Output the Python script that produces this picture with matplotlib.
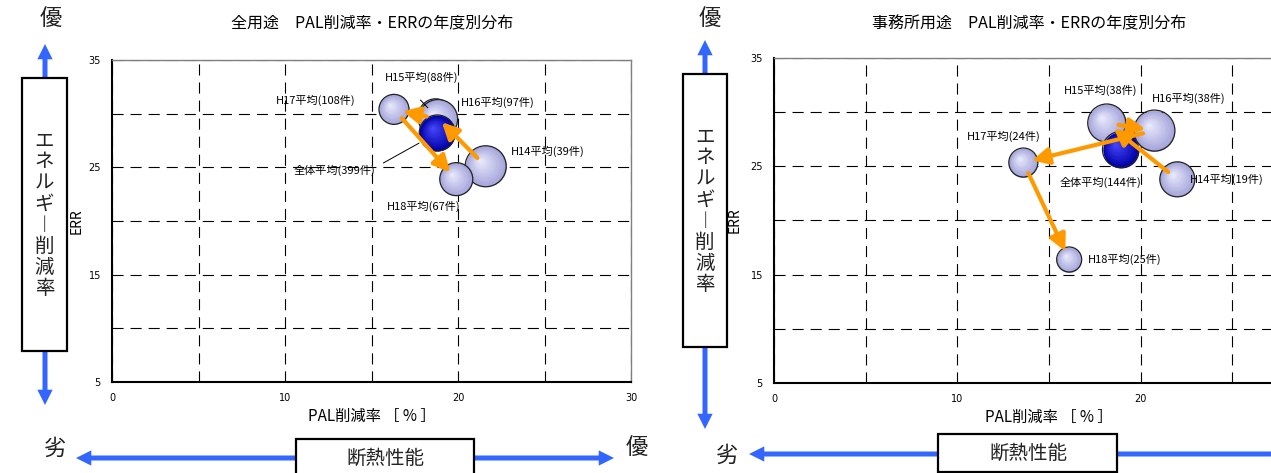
import numpy as np
import matplotlib.pyplot as plt
from matplotlib.patches import Rectangle, FancyArrowPatch
from matplotlib.transforms import ScaledTranslation
from matplotlib.colors import to_rgb

plt.rcParams['font.family'] = ['Noto Sans CJK JP', 'DejaVu Sans']
plt.rcParams['lines.scale_dashes'] = False

# --- data ---
years_all = ['H14平均(39件)', 'H15平均(88件)', 'H16平均(97件)', 'H17平均(108件)', 'H18平均(67件)']
pal_all = [21.6, 18.7, 18.85, 16.3, 19.9]
err_all = [25.1, 29.8, 29.5, 30.4, 23.9]
bub_all = [41, 34, 39, 30, 33]
total_all = ['全体平均(399件)', 18.8, 28.2, 36]

years_off = ['H14平均(19件)', 'H15平均(38件)', 'H16平均(38件)', 'H17平均(24件)', 'H18平均(25件)']
pal_off = [22.0, 18.15, 20.75, 13.6, 16.1]
err_off = [23.8, 29.0, 28.3, 25.35, 16.4]
bub_off = [35, 38, 41, 29, 25]
total_off = ['全体平均(144件)', 18.9, 26.55, 36]

W, H = 1271, 473
fig = plt.figure(figsize=(W / 100, H / 100), dpi=100)
PX = 0.72  # px -> pt


def fx(x):
    return x / W


def fy(y):
    return 1 - y / H


def bubble(ax, x, y, d, base, hi, z):
    dpt = d * PX
    base = np.array(to_rgb(base))
    hi = np.array(to_rgb(hi))
    ax.scatter([x], [y], s=dpt ** 2, color=base, linewidths=0, zorder=z)
    n = 16
    for i in range(1, n):
        f = 1 - i / n
        c = base * f + hi * (1 - f)
        off = (1 - f) * dpt * 0.15
        tr = ax.transData + ScaledTranslation(-off / 72, off / 72, fig.dpi_scale_trans)
        ax.scatter([x], [y], s=(dpt * f) ** 2, color=c, linewidths=0, zorder=z, transform=tr)
    ax.scatter([x], [y], s=dpt ** 2, facecolors='none', edgecolors='#222222', linewidths=0.9, zorder=z)


def trail(ax, xs, ys):
    for i in range(len(xs) - 1):
        p0 = ax.transData.transform((xs[i], ys[i]))
        p1 = ax.transData.transform((xs[i + 1], ys[i + 1]))
        if np.hypot(*(p1 - p0)) < 25:
            continue
        ax.annotate('', xy=(xs[i + 1], ys[i + 1]), xytext=(xs[i], ys[i]), zorder=8,
                    arrowprops=dict(arrowstyle='-|>,head_length=0.5,head_width=0.25',
                                    color='#ff9900', lw=3, shrinkA=8.5, shrinkB=6.5,
                                    mutation_scale=20))


def setup(ax, title_x, title, xlabels, xlab_y):
    ax.set_xlim(0, 30)
    ax.set_ylim(5, 35)
    ax.set_xticks(range(0, 31, 5))
    ax.set_xticklabels(xlabels)
    ax.set_yticks(range(5, 36, 5))
    ax.set_yticklabels(['5', '', '15', '', '25', '', '35'])
    ax.tick_params(length=0, labelsize=7, pad=8)
    for lab in ax.get_xticklabels() + ax.get_yticklabels():
        lab.set_family(['Liberation Sans Narrow', 'DejaVu Sans'])
    ax.grid(True, color='black', lw=0.8, ls=(0, (8, 5)))
    ax.set_axisbelow(True)
    for s in ['left', 'bottom']:
        ax.spines[s].set_linewidth(1.5)
        ax.spines[s].set_color('black')
    for s in ['top', 'right']:
        ax.spines[s].set_linewidth(1.0)
        ax.spines[s].set_color('#808080')
    ax.set_xlabel('PAL削減率 ［ % ］', fontsize=11)
    ax.xaxis.set_label_coords(0.5, xlab_y)
    ax.set_ylabel('ERR', fontsize=10)
    fig.text(fx(title_x), fy(24), title, fontsize=11.5, ha='center', va='center')


def panel(ax, years, pal, err, bub, total, order, lab_off, lab_ha, leaders):
    for k, i in enumerate(order):
        if i == 'T':
            bubble(ax, total[1], total[2], total[3], '#0000a8', '#4a4aff', 3 + k * 0.1)
        else:
            bubble(ax, pal[i], err[i], bub[i], '#a4a4da', '#eeeeff', 3 + k * 0.1)
    trail(ax, pal, err)
    pts = [(pal[i], err[i]) for i in range(5)] + [(total[1], total[2])]
    names = years + [total[0]]
    for (x, y), nm, off, ha in zip(pts, names, lab_off, lab_ha):
        ax.annotate(nm, xy=(x, y), xytext=off, textcoords='offset points', fontsize=8,
                    ha=ha, va='center', zorder=9, annotation_clip=False)
    for i, start, sb in leaders:
        x, y = pts[i]
        ax.annotate('', xy=(x, y), xytext=start, textcoords='offset points', zorder=9,
                    arrowprops=dict(arrowstyle='-', color='black', lw=0.7, shrinkA=0, shrinkB=sb))


# left panel
ax1 = fig.add_axes([fx(112), fy(382), 519 / W, 322 / H])
setup(ax1, 372, '全用途　PAL削減率・ERRの年度別分布', ['0', '', '10', '', '20', '', '30'], -0.082)
ax1.yaxis.set_label_coords(-0.055, 0.5)
panel(ax1, years_all, pal_all, err_all, bub_all, total_all,
      [1, 2, 'T', 3, 0, 4],
      [(44.6, 10.6), (-9.7, 27.9), (42.7, 12.0), (-56.7, 6.5), (-23.3, -19.8), (-73.9, -26.6)],
      ['center'] * 6,
      [(1, (-10.9, 11.4), 8), (5, (-38.8, -21.6), 15)])

# right panel
ax2 = fig.add_axes([fx(774), fy(383), 550 / W, 325 / H])
setup(ax2, 1029, '事務所用途　PAL削減率・ERRの年度別分布', ['0', '', '10', '', '20', '', ''], -0.081)
ax2.yaxis.set_label_coords(-0.058, 0.5)
panel(ax2, years_off, pal_off, err_off, bub_off, total_off,
      [1, 'T', 2, 3, 0, 4],
      [(9.3, 0), (-4.3, 23.3), (24.7, 23.2), (-14.2, 18.7), (13.5, 0), (-14.5, -23.7)],
      ['left', 'center', 'center', 'center', 'left', 'center'],
      [])

# decorations: arrows, boxes and words around the charts
blue = '#3366ff'


def big_arrow(x0, y0, x1, y1):
    fig.add_artist(FancyArrowPatch((fx(x0), fy(y0)), (fx(x1), fy(y1)), transform=fig.transFigure,
                                   arrowstyle='simple,head_length=11,head_width=11,tail_width=3.6',
                                   mutation_scale=1, color=blue, lw=0, shrinkA=0, shrinkB=0))


def box(x0, y0, x1, y1):
    fig.add_artist(Rectangle((fx(x0), fy(y1)), (x1 - x0) / W, (y1 - y0) / H, transform=fig.transFigure,
                             facecolor='white', edgecolor='black', lw=1.6))


vert = '\n'.join(['エ', 'ネ', 'ル', 'ギ', '︱', '削', '減', '率'])
for bx0, bx1, by0, by1, ax_ in [(22, 67, 78, 351, 45), (683, 727, 74, 347, 705)]:
    big_arrow(ax_, by0, ax_, by0 - 34)
    big_arrow(ax_, by1, ax_, by1 + (54 if ax_ < 100 else 82))
    box(bx0, by0, bx1, by1)
    fig.text(fx((bx0 + bx1) / 2), fy((by0 + by1) / 2), vert, fontsize=14, ha='center', va='center',
             color='#222222', linespacing=1.0)

big_arrow(296, 458, 76, 458)
big_arrow(474, 458, 614, 458)
box(296, 439, 474, 480)
fig.text(fx(385), fy(458), '断熱性能', fontsize=14, ha='center', va='center', color='#222222')

big_arrow(938, 454, 749, 454)
big_arrow(1117, 454, 1320, 454)
box(938, 434, 1117, 472)
fig.text(fx(1028), fy(453), '断熱性能', fontsize=14, ha='center', va='center', color='#222222')

for x, y, t in [(51, 18, '優'), (55, 448, '劣'), (637, 447, '優'), (710, 18, '優'), (727, 455, '劣')]:
    fig.text(fx(x), fy(y), t, fontsize=16, ha='center', va='center', color='#222222')

fig.savefig('out.png', dpi=100)
